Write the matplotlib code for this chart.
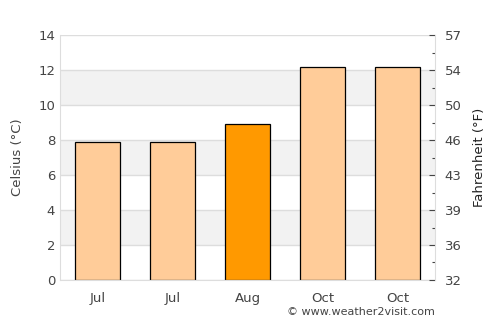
import matplotlib
matplotlib.use("Agg")
import matplotlib.pyplot as plt
import numpy as np

# data
months = ["Jul", "Jul", "Aug", "Oct", "Oct"]
temps_c = [7.9, 7.9, 8.9, 12.2, 12.2]
highlight = [False, False, True, False, False]

c_ticks = np.arange(0, 15, 2)
text_color = "#444444"
grid_color = "#dddddd"

fig = plt.figure(figsize=(5, 3.25), dpi=100)
ax = fig.add_axes([0.12, 0.1385, 0.75, 0.7535])

# alternating background bands
for lo in range(2, 14, 4):
    ax.axhspan(lo, lo + 2, color="#f2f2f2", zorder=0, lw=0)
for y in c_ticks:
    ax.axhline(y, color=grid_color, lw=1, zorder=0.5)

x = np.arange(len(months))
colors = ["#ff9900" if h else "#ffcc99" for h in highlight]
ax.bar(x, temps_c, width=0.6, color=colors, edgecolor="black", linewidth=0.9, zorder=2)

ax.set_xlim(-0.5, len(months) - 0.5)
ax.set_ylim(0, 14)
ax.set_xticks(x)
ax.set_xticklabels(months)
ax.set_yticks(c_ticks)
ax.tick_params(axis="both", colors=text_color, labelsize=9.5, length=0)
ax.tick_params(axis="x", pad=9)
ax.set_ylabel("Celsius (°C)", color=text_color, fontsize=9.5, labelpad=10)
for side in ["top", "right"]:
    ax.spines[side].set_visible(False)
for side in ["left", "bottom"]:
    ax.spines[side].set_color(grid_color)

# Fahrenheit axis on the right, ticks at the Celsius gridlines
ax2 = ax.twinx()
ax2.set_ylim(0, 14)
ax2.set_yticks(c_ticks)
ax2.set_yticklabels([f"{c * 9 / 5 + 32:.0f}" for c in c_ticks])
ax2.set_yticks(np.arange(1, 14, 2), minor=True)
ax2.tick_params(axis="y", which="major", direction="in", colors=text_color,
                labelsize=9.5, length=4, width=0.8, pad=7)
ax2.tick_params(axis="y", which="minor", direction="in", color=text_color, length=2.5, width=0.8)
ax2.set_ylabel("Fahrenheit (°F)", color="#222222", fontsize=9.5, labelpad=8)
for side in ["top", "left", "bottom"]:
    ax2.spines[side].set_visible(False)
ax2.spines["right"].set_color(grid_color)

fig.text(0.87, 0.025, "© www.weather2visit.com", ha="right", va="bottom",
         color=text_color, fontsize=8)

fig.savefig("out.png", dpi=100)
